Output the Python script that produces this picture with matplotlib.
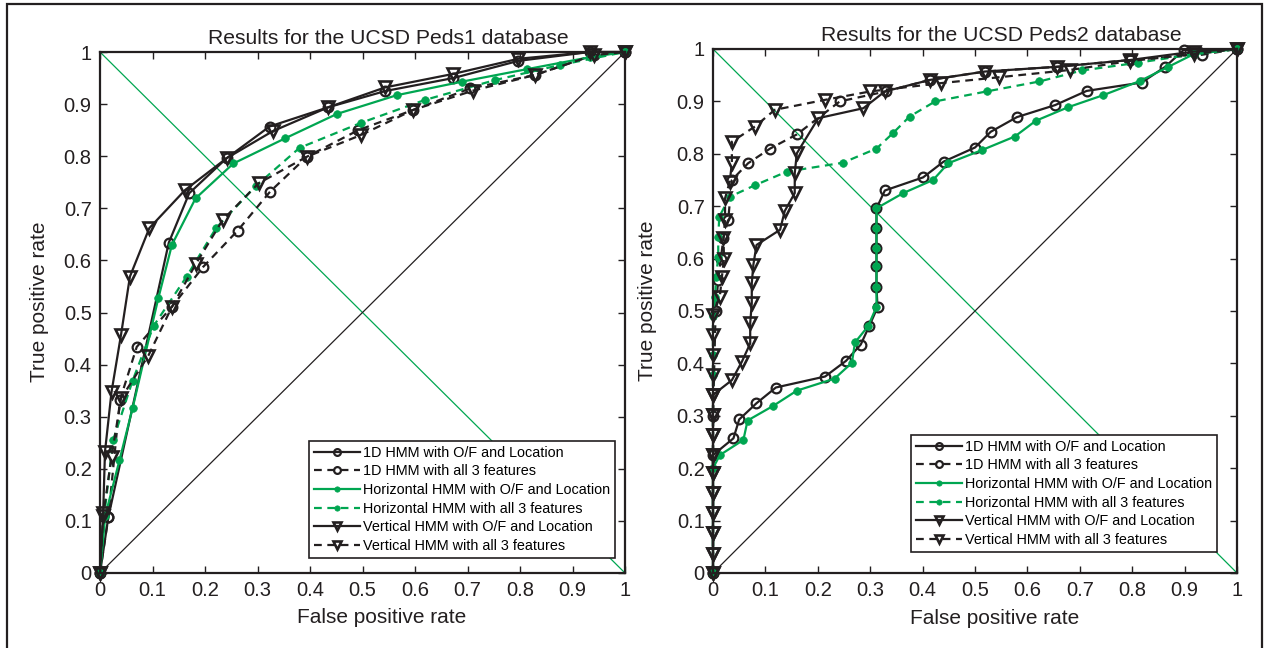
import matplotlib
matplotlib.use("Agg")
import matplotlib.pyplot as plt
from matplotlib.patches import Rectangle

plt.rcParams['font.family'] = ['Liberation Sans', 'DejaVu Sans']

GREEN = '#00a651'
BLACK = '#231f20'

labels = ["1D HMM with O/F and Location",
          "1D HMM with all 3 features",
          "Horizontal HMM with O/F and Location",
          "Horizontal HMM with all 3 features",
          "Vertical HMM with O/F and Location",
          "Vertical HMM with all 3 features"]
titles = ["Results for the UCSD Peds1 database", "Results for the UCSD Peds2 database"]
ticks = [0, 0.1, 0.2, 0.3, 0.4, 0.5, 0.6, 0.7, 0.8, 0.9, 1]
tick_labels = ["0", "0.1", "0.2", "0.3", "0.4", "0.5", "0.6", "0.7", "0.8", "0.9", "1"]

# ---------------- Peds1 ----------------
p1_1d_of_x = [0, 0.016, 0.131, 0.170, 0.241, 0.323, 0.435, 0.543, 0.673, 0.797, 0.933, 1]
p1_1d_of_y = [0, 0.108, 0.634, 0.729, 0.796, 0.857, 0.894, 0.925, 0.950, 0.983, 1.0, 1]
p1_1d_all_x = [0, 0.016, 0.038, 0.070, 0.137, 0.196, 0.262, 0.324, 0.394, 0.492, 0.597, 0.705, 0.829, 0.940, 1]
p1_1d_all_y = [0, 0.108, 0.332, 0.434, 0.511, 0.587, 0.657, 0.732, 0.799, 0.850, 0.889, 0.930, 0.956, 0.994, 1]
p1_h_of_x = [0, 0.010, 0.037, 0.062, 0.111, 0.137, 0.182, 0.254, 0.352, 0.451, 0.565, 0.689, 0.813, 0.933, 1]
p1_h_of_y = [0, 0.110, 0.216, 0.316, 0.527, 0.630, 0.719, 0.786, 0.834, 0.881, 0.917, 0.943, 0.967, 0.990, 1]
p1_h_all_x = [0, 0.008, 0.025, 0.062, 0.102, 0.165, 0.221, 0.297, 0.380, 0.497, 0.619, 0.752, 0.876, 1]
p1_h_all_y = [0, 0.110, 0.255, 0.369, 0.474, 0.569, 0.662, 0.743, 0.816, 0.864, 0.908, 0.946, 0.975, 1]
p1_v_of_x = [0, 0.006, 0.0095, 0.022, 0.040, 0.057, 0.094, 0.162, 0.241, 0.329, 0.435, 0.543, 0.673, 0.797, 0.933, 1]
p1_v_of_y = [0, 0.115, 0.233, 0.348, 0.457, 0.569, 0.662, 0.735, 0.796, 0.848, 0.894, 0.932, 0.958, 0.987, 1.0, 1]
p1_v_all_x = [0, 0.006, 0.022, 0.040, 0.092, 0.137, 0.183, 0.234, 0.302, 0.394, 0.498, 0.597, 0.711, 0.829, 0.940, 1]
p1_v_all_y = [0, 0.110, 0.223, 0.335, 0.417, 0.511, 0.594, 0.678, 0.748, 0.799, 0.841, 0.889, 0.926, 0.956, 0.994, 1]

# ---------------- Peds2 ----------------
p2_1d_of_x = [0, 0, 0.039, 0.050, 0.083, 0.120, 0.214, 0.254, 0.282, 0.298, 0.314, 0.312, 0.312, 0.312, 0.312, 0.312,
              0.328, 0.401, 0.440, 0.500, 0.530, 0.580, 0.653, 0.713, 0.818, 0.863, 0.898, 1]
p2_1d_of_y = [0, 0.225, 0.257, 0.293, 0.324, 0.354, 0.375, 0.405, 0.436, 0.471, 0.507, 0.546, 0.585, 0.620, 0.658, 0.696,
              0.730, 0.755, 0.785, 0.812, 0.842, 0.870, 0.893, 0.920, 0.936, 0.966, 0.998, 1]
p2_1d_all_x = [0, 0, 0.005, 0.010, 0.015, 0.020, 0.029, 0.036, 0.067, 0.109, 0.160, 0.242, 0.330, 0.414, 0.519,
               0.656, 0.796, 0.933, 1]
p2_1d_all_y = [0, 0.300, 0.500, 0.560, 0.600, 0.640, 0.674, 0.750, 0.782, 0.810, 0.837, 0.900, 0.919, 0.941,
               0.957, 0.966, 0.979, 0.989, 1]
p2_h_of_x = [0, 0, 0.013, 0.058, 0.066, 0.115, 0.160, 0.232, 0.265, 0.271, 0.296, 0.312, 0.312, 0.312, 0.312, 0.312,
             0.312, 0.363, 0.420, 0.449, 0.513, 0.576, 0.616, 0.678, 0.745, 0.815, 0.869, 0.917, 1]
p2_h_of_y = [0, 0.200, 0.225, 0.254, 0.291, 0.319, 0.348, 0.371, 0.401, 0.440, 0.471, 0.508, 0.546, 0.585, 0.620, 0.658,
             0.696, 0.725, 0.750, 0.782, 0.807, 0.833, 0.863, 0.889, 0.912, 0.939, 0.966, 0.990, 1]
p2_h_all_x = [0, 0, 0, 0, 0.004, 0.006, 0.010, 0.010, 0.012, 0.032, 0.080, 0.141, 0.248, 0.312, 0.343, 0.375, 0.424,
              0.522, 0.623, 0.704, 0.812, 0.917, 1]
p2_h_all_y = [0, 0.378, 0.416, 0.490, 0.527, 0.565, 0.604, 0.642, 0.680, 0.718, 0.740, 0.766, 0.783, 0.810, 0.839,
              0.871, 0.900, 0.919, 0.938, 0.959, 0.974, 0.990, 1]
p2_v_of_x = [0, 0, 0, 0, 0, 0, 0, 0, 0, 0, 0.036, 0.055, 0.071, 0.071, 0.074, 0.074, 0.077, 0.083, 0.128, 0.137,
             0.156, 0.156, 0.160, 0.201, 0.287, 0.328, 0.414, 0.519, 0.656, 0.796, 0.917, 1]
p2_v_of_y = [0, 0.037, 0.076, 0.114, 0.152, 0.190, 0.225, 0.263, 0.302, 0.340, 0.368, 0.403, 0.438, 0.477, 0.515,
             0.553, 0.588, 0.626, 0.655, 0.691, 0.725, 0.763, 0.801, 0.868, 0.887, 0.919, 0.941, 0.957, 0.966,
             0.979, 0.995, 1]
p2_v_all_x = [0, 0, 0, 0, 0, 0, 0, 0, 0, 0, 0, 0, 0, 0, 0.013, 0.017, 0.021, 0.020, 0.023, 0.023, 0.032, 0.036,
              0.036, 0.080, 0.118, 0.214, 0.300, 0.436, 0.545, 0.681, 0.796, 0.917, 1]
p2_v_all_y = [0, 0.037, 0.076, 0.114, 0.152, 0.190, 0.225, 0.263, 0.302, 0.340, 0.378, 0.416, 0.454, 0.492, 0.527,
              0.565, 0.600, 0.639, 0.674, 0.715, 0.747, 0.782, 0.823, 0.852, 0.884, 0.903, 0.919, 0.935, 0.946,
              0.960, 0.977, 0.990, 1]

panels = [
    [(p1_1d_of_x, p1_1d_of_y), (p1_1d_all_x, p1_1d_all_y), (p1_h_of_x, p1_h_of_y),
     (p1_h_all_x, p1_h_all_y), (p1_v_of_x, p1_v_of_y), (p1_v_all_x, p1_v_all_y)],
    [(p2_1d_of_x, p2_1d_of_y), (p2_1d_all_x, p2_1d_all_y), (p2_h_of_x, p2_h_of_y),
     (p2_h_all_x, p2_h_all_y), (p2_v_of_x, p2_v_of_y), (p2_v_all_x, p2_v_all_y)],
]

dash = (0, (3.5, 2.5))
styles = [
    dict(color=BLACK, ls='-', marker='o', ms=7, mfc='none', mew=1.6),
    dict(color=BLACK, ls=dash, marker='o', ms=7, mfc='none', mew=1.6),
    dict(color=GREEN, ls='-', marker='o', ms=5.5, mfc=GREEN, mew=0.5),
    dict(color=GREEN, ls=dash, marker='o', ms=5.5, mfc=GREEN, mew=0.5),
    dict(color=BLACK, ls='-', marker='v', ms=8, mfc='none', mew=1.9),
    dict(color=BLACK, ls=dash, marker='v', ms=8, mfc='none', mew=1.9),
]

fig = plt.figure(figsize=(12.66, 6.48), dpi=100)
fig.patches.append(Rectangle((7 / 1266, -0.02), (1262 - 7) / 1266, 1.02 - 4 / 648,
                             transform=fig.transFigure, fill=False, lw=1.6, ec=BLACK))

axes_pos = [
    [100 / 1266, 1 - 573 / 648, 525 / 1266, 521 / 648],
    [713 / 1266, 1 - 573 / 648, 524 / 1266, 524 / 648],
]
legend_anchor = [(0.981, 0.029), (0.962, 0.040)]
ylabel_x = [-0.097, -0.107]

for k in range(2):
    ax = fig.add_axes(axes_pos[k])
    ax.plot([0, 1], [1, 0], color=GREEN, lw=0.9, zorder=1)
    ax.plot([0, 1], [0, 1], color=BLACK, lw=0.9, zorder=1)
    for (xs, ys), st, lab in zip(panels[k], styles, labels):
        ax.plot(xs, ys, lw=1.6, label=lab, zorder=2, clip_on=False, **st)
    ax.set_xlim(0, 1)
    ax.set_ylim(0, 1)
    ax.set_xticks(ticks)
    ax.set_xticklabels(tick_labels)
    ax.set_yticks(ticks)
    ax.set_yticklabels(tick_labels)
    ax.tick_params(direction='in', top=True, right=True, length=5, width=1, labelsize=14.5,
                   colors=BLACK, pad=6)
    for s in ax.spines.values():
        s.set_linewidth(1.6)
        s.set_color(BLACK)
    ax.set_title(titles[k], fontsize=15.2, color=BLACK, pad=6, x=0.55)
    ax.set_xlabel("False positive rate", fontsize=15, color=BLACK)
    ax.set_ylabel("True positive rate", fontsize=15, color=BLACK)
    ax.xaxis.set_label_coords(0.537, -0.068)
    ax.yaxis.set_label_coords(ylabel_x[k], 0.52)
    leg = ax.legend(loc='lower right', bbox_to_anchor=legend_anchor[k], fontsize=10.4,
                    handlelength=3.2, labelspacing=0.32, borderpad=0.35, handletextpad=0.2,
                    fancybox=False, framealpha=1, edgecolor=BLACK, borderaxespad=0,
                    markerscale=0.7)
    leg.get_frame().set_linewidth(1.2)

fig.savefig("out.png", dpi=100)
